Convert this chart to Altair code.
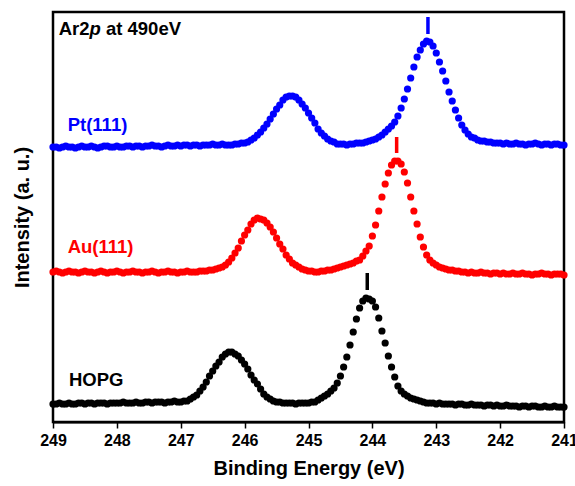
import altair as alt
import pandas as pd

# ---- data (stacked intensities, arbitrary units) ----
start_energy = 249.0   # eV
step_energy = 0.05     # eV
n_points = 161

pt_111 = [
    275, 275, 274, 275, 276, 275, 275, 274, 275, 276,
    275, 275, 276, 275, 274, 275, 276, 276, 275, 275,
    276, 275, 275, 276, 276, 275, 276, 276, 275, 276,
    276, 277, 276, 276, 275, 276, 277, 276, 276, 277,
    276, 277, 277, 276, 277, 277, 276, 277, 277, 277,
    278, 277, 277, 278, 277, 277, 277, 278, 278, 279,
    279, 280, 282, 284, 287, 290, 294, 298, 303, 308,
    313, 317, 322, 325, 326, 326, 325, 322, 318, 314,
    309, 304, 299, 293, 289, 286, 283, 281, 280, 278,
    278, 278, 277, 278, 278, 279, 279, 279, 280, 281,
    282, 283, 285, 287, 290, 293, 296, 300, 306, 314,
    323, 333, 344, 355, 365, 372, 378, 381, 380, 376,
    369, 360, 351, 341, 330, 321, 312, 304, 297, 292,
    288, 285, 284, 282, 281, 281, 280, 280, 279, 279,
    279, 278, 279, 278, 278, 279, 278, 278, 277, 278,
    278, 279, 278, 277, 278, 278, 277, 278, 278, 277,
    277,
]

au_111 = [
    150, 151, 150, 149, 150, 151, 150, 150, 149, 150,
    151, 150, 150, 149, 150, 151, 150, 149, 150, 150,
    151, 150, 149, 150, 150, 151, 150, 150, 149, 150,
    150, 151, 150, 149, 150, 150, 151, 150, 150, 149,
    150, 150, 151, 150, 150, 150, 151, 151, 151, 152,
    152, 153, 154, 155, 157, 160, 164, 169, 174, 181,
    187, 192, 198, 202, 204, 203, 202, 199, 195, 190,
    184, 178, 173, 167, 163, 159, 157, 155, 153, 152,
    151, 151, 150, 150, 151, 151, 152, 152, 153, 154,
    155, 156, 157, 158, 159, 161, 162, 166, 171, 176,
    186, 197, 211, 225, 238, 249, 257, 261, 261, 258,
    250, 239, 225, 211, 198, 185, 175, 167, 162, 159,
    157, 155, 154, 153, 152, 152, 151, 151, 150, 150,
    149, 150, 149, 149, 150, 149, 149, 148, 149, 149,
    148, 149, 148, 148, 149, 148, 148, 149, 148, 148,
    147, 148, 148, 149, 148, 148, 147, 148, 148, 148,
    147,
]

hopg = [
    18, 18, 19, 18, 18, 19, 18, 18, 19, 19,
    18, 19, 19, 18, 19, 19, 19, 18, 19, 19,
    19, 19, 20, 19, 19, 19, 20, 19, 19, 20,
    20, 19, 20, 20, 20, 19, 20, 20, 21, 20,
    20, 21, 21, 23, 25, 27, 31, 35, 40, 46,
    51, 56, 60, 65, 68, 70, 70, 68, 66, 62,
    58, 53, 47, 42, 38, 33, 28, 25, 23, 21,
    20, 20, 19, 19, 19, 19, 18, 19, 19, 19,
    19, 20, 20, 22, 24, 26, 28, 31, 34, 39,
    46, 55, 65, 77, 90, 103, 114, 121, 124, 123,
    121, 115, 104, 91, 79, 66, 55, 45, 36, 31,
    28, 26, 24, 23, 22, 21, 20, 19, 19, 19,
    18, 19, 18, 18, 18, 18, 17, 18, 18, 17,
    17, 18, 17, 17, 17, 16, 17, 17, 16, 17,
    16, 16, 17, 16, 16, 16, 15, 16, 16, 15,
    16, 16, 15, 15, 16, 15, 15, 16, 15, 15,
    15,
]

series_names = ["Pt(111)", "Au(111)", "HOPG"]
series_colors = ["#0000ff", "#ff0000", "#000000"]

peak_energy = [243.13, 243.62, 244.08]
peak_top = [405, 285, 149]
peak_bottom = [388, 269, 132]

label_energy = [248.77, 248.77, 248.75]
label_level = [297, 175, 42]

title_energy = 248.91
title_level = 393

x_domain = [241, 249]
minor_per_eV = 5          # minor tick every 0.2 eV

# ---- tables ----
energies = [round(start_energy - step_energy * i, 2) for i in range(n_points)]
rows = []
for name, vals in zip(series_names, [pt_111, au_111, hopg]):
    for e, v in zip(energies, vals):
        rows.append({"E": e, "I": v, "series": name})
spectra = pd.DataFrame(rows)

peaks = pd.DataFrame({"E": peak_energy, "I": peak_top, "I2": peak_bottom,
                      "series": series_names})
labels = pd.DataFrame({"E": label_energy, "I": label_level, "series": series_names})
title_df = pd.DataFrame({"E": [title_energy], "I": [title_level]})

FONT = "Liberation Sans"
is_major = "abs(datum.value - round(datum.value)) < 0.01"

x_scale = alt.Scale(domain=x_domain, reverse=True, nice=False, zero=False)
y_scale = alt.Scale(domain=[0, 410], nice=False, zero=False)
color_scale = alt.Scale(domain=series_names, range=series_colors)

x_axis = alt.Axis(
    tickCount=(x_domain[1] - x_domain[0]) * minor_per_eV,
    format="d",
    labelExpr=f"{is_major} ? datum.label : ''",
    labelOverlap=False,
    labelFlush=False,
    labelFont=FONT, labelFontSize=16, labelFontWeight="bold", labelColor="black",
    labelPadding=4,
    tickSize={"condition": {"test": is_major, "value": 6}, "value": 3},
    tickColor="black", tickWidth=1.5,
    domainColor="black", domainWidth=2,
    grid=False,
    title="Binding Energy (eV)",
    titleFont=FONT, titleFontSize=20, titleFontWeight="bold", titleColor="black",
    titlePadding=10,
)
y_axis = alt.Axis(
    labels=False, ticks=False, domain=False, grid=False,
    title="Intensity (a. u.)",
    titleFont=FONT, titleFontSize=20, titleFontWeight="bold", titleColor="black",
    titlePadding=21,
)

points = alt.Chart(spectra).mark_circle(size=52, opacity=1).encode(
    x=alt.X("E:Q", scale=x_scale, axis=x_axis),
    y=alt.Y("I:Q", scale=y_scale, axis=y_axis),
    color=alt.Color("series:N", scale=color_scale, legend=None),
)

markers = alt.Chart(peaks).mark_rule(strokeWidth=3.5).encode(
    x="E:Q", y="I:Q", y2="I2:Q",
    color=alt.Color("series:N", scale=color_scale, legend=None),
)

label_marks = alt.Chart(labels).mark_text(
    align="left", baseline="middle", font=FONT, fontSize=18.5, fontWeight="bold"
).encode(
    x="E:Q", y="I:Q", text="series:N",
    color=alt.Color("series:N", scale=color_scale, legend=None),
)

title_a = alt.Chart(title_df).mark_text(
    align="left", baseline="middle", font=FONT, fontSize=18.5, fontWeight="bold",
    color="black", text="Ar2"
).encode(x="E:Q", y="I:Q")
title_b = alt.Chart(title_df).mark_text(
    align="left", baseline="middle", font=FONT, fontSize=18.5, fontWeight="bold",
    fontStyle="italic", color="black", text="p", dx=30.8
).encode(x="E:Q", y="I:Q")
title_c = alt.Chart(title_df).mark_text(
    align="left", baseline="middle", font=FONT, fontSize=18.5, fontWeight="bold",
    color="black", text="at 490eV", dx=47.2
).encode(x="E:Q", y="I:Q")

chart = alt.layer(points, markers, label_marks, title_a, title_b, title_c).properties(
    width=511, height=410,
    padding={"left": 53, "top": 12, "right": 11, "bottom": 64},
    autosize=alt.AutoSizeParams(type="none"),
    background="white",
).configure_view(stroke="black", strokeWidth=2.5)

chart.save("out.html", embed_options={"renderer": "svg", "actions": False})
